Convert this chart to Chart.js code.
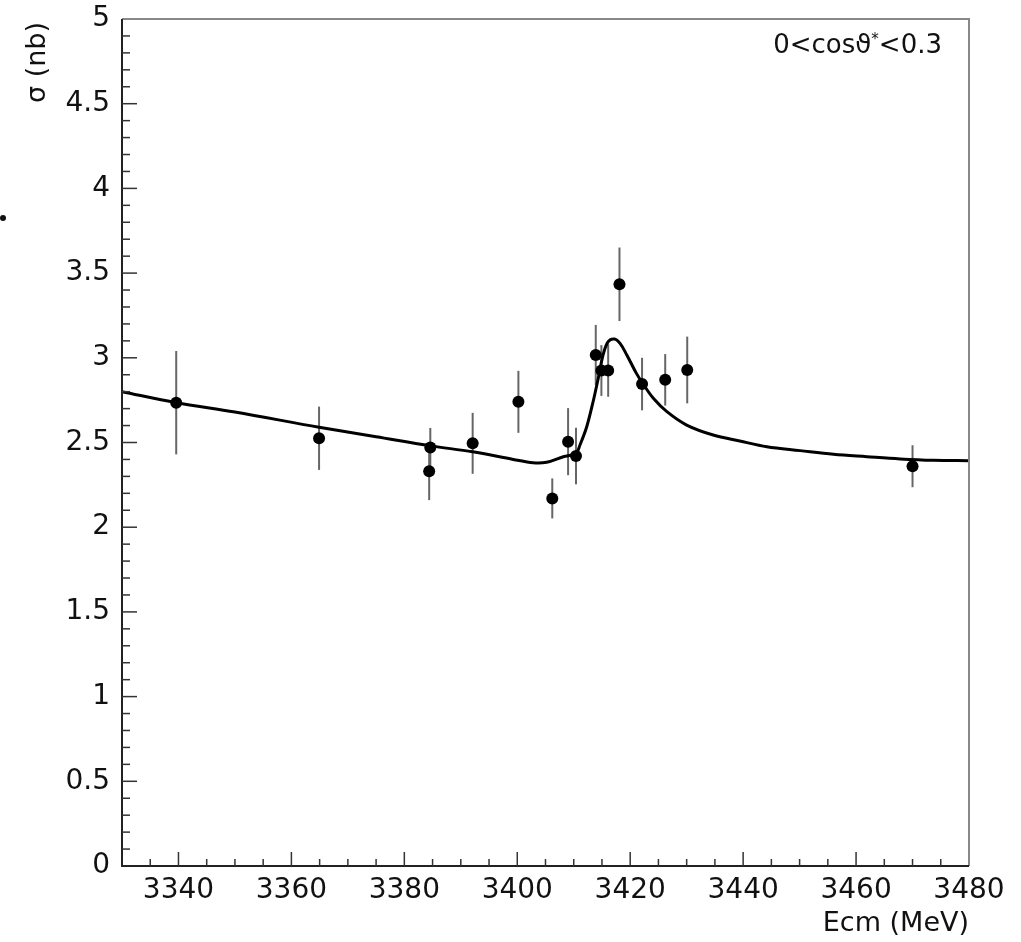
<!DOCTYPE html>
<html>
<head>
<meta charset="utf-8">
<script src="https://cdn.jsdelivr.net/npm/chart.js@4.4.1/dist/chart.umd.min.js"></script>
<style>
  html, body { margin: 0; padding: 0; background: #fff; }
  #wrap { position: relative; width: 1021px; height: 942px; }
  #speck { position: absolute; left: 0px; top: 215px; width: 6px; height: 6px; border-radius: 3px; background: #111; }
</style>
</head>
<body>
<div id="wrap">
  <canvas id="xsec" width="1021" height="942"></canvas>
  <div id="speck"></div>
</div>
<script>
// measured points: Ecm (MeV), sigma (nb), error (nb)
const energies = [3339.6, 3364.9, 3384.6, 3384.4, 3392.1, 3400.2, 3406.2, 3409.0, 3410.4,
                  3413.9, 3414.9, 3416.1, 3418.1, 3422.1, 3426.2, 3430.1, 3470.0];
const sigmas   = [2.735, 2.525, 2.47, 2.33, 2.495, 2.74, 2.17, 2.505, 2.42,
                  3.017, 2.925, 2.925, 3.434, 2.845, 2.87, 2.928, 2.36];
const errors   = [0.305, 0.187, 0.116, 0.17, 0.18, 0.183, 0.118, 0.198, 0.167,
                  0.177, 0.15, 0.155, 0.217, 0.155, 0.152, 0.197, 0.124];

// fitted curve
const fitE     = [3330, 3339.6, 3350, 3364.9, 3375, 3384.7, 3392.1, 3399.3, 3402.8, 3405.2,
                  3408.15, 3410.4, 3411.1, 3412.3, 3413.5, 3414.4, 3415.2, 3416.1, 3417.2,
                  3418.2, 3419.4, 3421.1, 3422.3, 3424.1, 3426.5, 3430.0, 3434.7, 3439.4,
                  3444.2, 3450.1, 3456.0, 3461.9, 3467.8, 3473.7, 3480];
const fitSigma = [2.80, 2.735, 2.68, 2.59, 2.534, 2.48, 2.445, 2.40, 2.38, 2.383,
                  2.416, 2.436, 2.485, 2.593, 2.751, 2.888, 3.017, 3.095, 3.111,
                  3.085, 3.017, 2.908, 2.845, 2.761, 2.682, 2.603, 2.544, 2.509,
                  2.475, 2.452, 2.43, 2.416, 2.403, 2.395, 2.393];

const xTicks = [3340, 3360, 3380, 3400, 3420, 3440, 3460, 3480];
const yTicks = [0, 0.5, 1, 1.5, 2, 2.5, 3, 3.5, 4, 4.5, 5];

const FONT = '"DejaVu Sans", sans-serif';

const rootStyle = {
  id: 'rootStyle',
  beforeDatasetsDraw(chart) {
    const ctx = chart.ctx, x = chart.scales.x, y = chart.scales.y;
    ctx.save();
    ctx.strokeStyle = '#666';
    ctx.lineWidth = 2;
    energies.forEach((e, i) => {
      const px = x.getPixelForValue(e);
      ctx.beginPath();
      ctx.moveTo(px, y.getPixelForValue(sigmas[i] - errors[i]));
      ctx.lineTo(px, y.getPixelForValue(sigmas[i] + errors[i]));
      ctx.stroke();
    });
    ctx.restore();
  },
  afterDraw(chart) {
    const ctx = chart.ctx, x = chart.scales.x, y = chart.scales.y;
    const a = chart.chartArea;
    ctx.save();
    // frame
    ctx.lineWidth = 2;
    ctx.strokeStyle = '#888';
    ctx.beginPath();
    ctx.moveTo(a.left, a.top); ctx.lineTo(a.right, a.top); ctx.lineTo(a.right, a.bottom);
    ctx.stroke();
    ctx.strokeStyle = '#222';
    ctx.beginPath();
    ctx.moveTo(a.left, a.top); ctx.lineTo(a.left, a.bottom); ctx.lineTo(a.right, a.bottom);
    ctx.stroke();
    // inward ticks
    ctx.lineWidth = 1.5;
    ctx.strokeStyle = '#333';
    for (let v = 3335; v < 3480; v += 5) {
      const px = x.getPixelForValue(v);
      const len = (v % 20 === 0) ? 14 : 7;
      ctx.beginPath(); ctx.moveTo(px, a.bottom); ctx.lineTo(px, a.bottom - len); ctx.stroke();
    }
    for (let k = 1; k < 50; k++) {
      const py = y.getPixelForValue(k / 10);
      const len = (k % 5 === 0) ? 15 : 8;
      ctx.beginPath(); ctx.moveTo(a.left, py); ctx.lineTo(a.left + len, py); ctx.stroke();
    }
    // axis titles
    ctx.fillStyle = '#111';
    ctx.font = '27px ' + FONT;
    ctx.textAlign = 'right';
    ctx.textBaseline = 'alphabetic';
    ctx.fillText('Ecm (MeV)', a.right, 931);
    ctx.save();
    ctx.translate(38, a.top + 3);
    ctx.rotate(-Math.PI / 2);
    ctx.textBaseline = 'middle';
    ctx.fillText('\u03c3 (nb)', 0, 0);
    ctx.restore();
    // selection label
    const parts = ['0<cos\u03d1', '*', '<0.3'];
    ctx.font = '26px ' + FONT;
    const w0 = ctx.measureText(parts[0]).width;
    const w2 = ctx.measureText(parts[2]).width;
    ctx.font = '15px ' + FONT;
    const w1 = ctx.measureText(parts[1]).width;
    let tx = a.right - 27 - (w0 + w1 + w2);
    ctx.textAlign = 'left';
    ctx.font = '26px ' + FONT;
    ctx.fillText(parts[0], tx, 53);
    tx += w0;
    ctx.font = '15px ' + FONT;
    ctx.fillText(parts[1], tx, 44);
    tx += w1;
    ctx.font = '26px ' + FONT;
    ctx.fillText(parts[2], tx, 53);
    ctx.restore();
  }
};

new Chart(document.getElementById('xsec'), {
  type: 'scatter',
  data: {
    datasets: [
      {
        data: fitE.map((e, i) => ({ x: e, y: fitSigma[i] })),
        showLine: true,
        borderColor: '#000',
        borderWidth: 3,
        pointRadius: 0,
        tension: 0.35,
        order: 2
      },
      {
        data: energies.map((e, i) => ({ x: e, y: sigmas[i] })),
        backgroundColor: '#000',
        borderColor: '#000',
        pointRadius: 6,
        borderWidth: 0,
        order: 1
      }
    ]
  },
  plugins: [rootStyle],
  options: {
    responsive: false,
    animation: false,
    layout: { padding: { left: 0, top: 19, right: 52, bottom: 0 } },
    plugins: { legend: { display: false }, tooltip: { enabled: false } },
    scales: {
      x: {
        type: 'linear', min: 3330, max: 3480,
        afterFit: s => { s.height = 76; },
        afterBuildTicks: s => { s.ticks = xTicks.map(v => ({ value: v })); },
        grid: { display: false, drawTicks: false },
        border: { display: false },
        ticks: { color: '#111', font: { family: FONT, size: 28 }, padding: 8, maxRotation: 0,
                 callback: v => String(v) }
      },
      y: {
        type: 'linear', min: 0, max: 5,
        afterFit: s => { s.width = 122; s.paddingTop = 0; s.paddingBottom = 0; },
        afterBuildTicks: s => { s.ticks = yTicks.map(v => ({ value: v })); },
        grid: { display: false, drawTicks: false },
        border: { display: false },
        ticks: { color: '#111', font: { family: FONT, size: 28, lineHeight: 0.5 }, padding: 12,
                 callback: v => String(v) }
      }
    }
  }
});
</script>
</body>
</html>
